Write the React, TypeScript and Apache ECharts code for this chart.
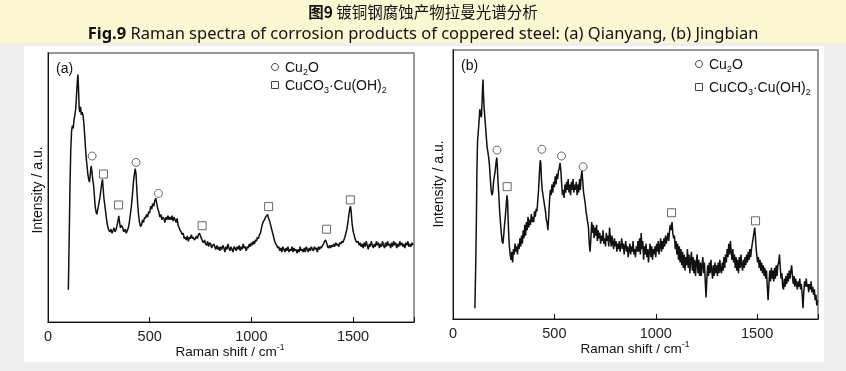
import React, { useEffect, useRef } from 'react';
import * as echarts from 'echarts';

// ---------- data ----------
const xTickLabels = [0, 500, 1000, 1500];

// (a) Qianyang  [Raman shift cm-1, intensity a.u.]
const specA: number[][] = [
  [100, 12], [104, 30], [108, 50], [112, 64], [116, 71], [120, 73], [124, 72], [128, 75], [132, 77], [136, 79],
  [140, 84], [144, 89], [147, 92], [150, 87], [153, 80], [156, 78], [160, 80], [164, 77], [168, 78], [172, 77],
  [176, 74], [180, 70], [184, 65], [188, 61], [192, 58], [196, 55], [200, 53], [204, 52], [208, 55], [212, 58],
  [216, 56], [220, 53], [224, 51], [228, 47], [232, 43], [236, 41], [240, 40], [245, 42], [250, 44], [255, 46],
  [260, 49], [265, 52], [268, 53], [271, 50], [275, 46], [280, 43], [285, 40], [290, 37], [295, 35], [300, 34],
  [305, 33.5], [310, 34.5], [315, 33], [320, 34], [325, 35], [330, 33.5], [335, 34.5], [340, 36], [345, 38], [348, 39.5],
  [352, 37], [356, 35], [360, 36], [364, 35.5], [368, 35], [372, 33.5], [376, 34], [380, 34.5], [385, 33], [390, 34],
  [395, 35], [400, 37], [405, 40], [410, 43], [415, 47], [420, 52], [425, 55], [429, 57], [433, 55], [437, 49],
  [441, 44], [445, 40], [450, 37], [455, 35.5], [460, 36], [465, 38], [470, 37], [475, 39], [480, 38.5], [485, 40],
  [490, 39], [495, 41], [500, 40.5], [505, 43], [510, 42], [515, 44], [520, 43], [525, 45], [530, 46], [535, 44],
  [540, 42], [545, 41], [550, 39], [555, 40], [560, 38], [565, 39], [570, 38.5], [575, 37], [580, 39], [585, 38],
  [590, 39.5], [595, 38], [600, 39], [605, 38], [610, 39.5], [615, 37.5], [620, 39], [625, 38], [630, 37], [635, 38.5],
  [640, 36], [645, 35], [650, 34], [655, 33.5], [660, 32.5], [665, 33], [670, 31], [675, 31.5], [680, 30.5], [685, 32],
  [690, 30], [695, 31.5], [700, 31], [705, 32.5], [710, 31], [715, 31.5], [720, 30.5], [725, 31], [730, 32], [735, 31],
  [740, 32.5], [745, 33], [750, 32], [755, 31], [760, 30], [765, 29.5], [770, 30.5], [775, 29], [780, 28.5], [785, 30],
  [790, 28], [795, 29.5], [800, 29], [805, 27.5], [810, 28.5], [815, 29], [820, 28], [825, 27], [830, 28.5], [835, 27],
  [840, 28], [845, 26.5], [850, 28], [855, 27], [860, 28.5], [865, 27.5], [870, 26], [875, 28], [880, 27], [885, 29],
  [890, 27.5], [895, 26.5], [900, 28], [905, 27], [910, 26], [915, 28], [920, 27.5], [925, 26.5], [930, 28], [935, 27],
  [940, 28.5], [945, 26.5], [950, 28], [955, 27], [960, 29], [965, 27.5], [970, 28], [975, 26.5], [980, 28], [985, 27.5],
  [990, 29], [995, 28], [1000, 29.5], [1005, 28.5], [1010, 30], [1015, 29], [1020, 30.5], [1025, 30], [1030, 31.5], [1035, 31],
  [1040, 32.5], [1045, 33], [1050, 35], [1055, 36.5], [1060, 37.5], [1065, 38], [1070, 39], [1075, 39.5], [1080, 40], [1085, 38.5],
  [1090, 37.5], [1095, 36], [1100, 34.5], [1105, 33], [1110, 31.5], [1115, 30], [1120, 29], [1125, 28.5], [1130, 27.5], [1135, 28],
  [1140, 26.5], [1145, 27.5], [1150, 26], [1155, 28], [1160, 27], [1165, 26], [1170, 27.5], [1175, 26.5], [1180, 28], [1185, 26],
  [1190, 27], [1195, 26.5], [1200, 28], [1205, 26], [1210, 27.5], [1215, 26.5], [1220, 27], [1225, 25.5], [1230, 27], [1235, 26],
  [1240, 28], [1245, 26.5], [1250, 27], [1255, 26], [1260, 27.5], [1265, 26], [1270, 28], [1275, 27], [1280, 26], [1285, 27.5],
  [1290, 26.5], [1295, 28], [1300, 27], [1305, 26.5], [1310, 28], [1315, 27], [1320, 27.5], [1325, 26], [1330, 28], [1335, 27],
  [1340, 28], [1345, 27.5], [1350, 28.5], [1355, 29], [1360, 30], [1365, 30.5], [1370, 29.5], [1375, 28], [1380, 27.5], [1385, 28.5],
  [1390, 27.5], [1395, 28.5], [1400, 28], [1405, 29], [1410, 28], [1415, 29.5], [1420, 28.5], [1425, 29], [1430, 28], [1435, 29.5],
  [1440, 29], [1445, 30], [1450, 29.5], [1455, 30.5], [1460, 31.5], [1465, 33], [1470, 34.5], [1475, 37], [1480, 40], [1485, 42.5],
  [1488, 43], [1491, 41], [1495, 37], [1500, 34], [1505, 32.5], [1510, 31], [1515, 30], [1520, 29.5], [1525, 30], [1530, 28.5],
  [1535, 29.5], [1540, 28], [1545, 29], [1550, 27.5], [1555, 29.5], [1560, 28], [1565, 30], [1570, 28.5], [1575, 27], [1580, 29],
  [1585, 28], [1590, 30], [1595, 28.5], [1600, 27.5], [1605, 29], [1610, 28], [1615, 30], [1620, 28.5], [1625, 29.5], [1630, 27.5],
  [1635, 29], [1640, 28], [1645, 30], [1650, 28.5], [1655, 27.5], [1660, 29.5], [1665, 28], [1670, 30], [1675, 28.5], [1680, 29],
  [1685, 27.5], [1690, 29.5], [1695, 28], [1700, 30], [1705, 28.5], [1710, 29.5], [1715, 27.5], [1720, 29], [1725, 28], [1730, 30],
  [1735, 28.5], [1740, 29.5], [1745, 28], [1750, 29], [1755, 27.5], [1760, 29.5], [1765, 28.5], [1770, 30], [1775, 28], [1780, 29],
  [1785, 28], [1790, 29.5], [1795, 28.5],
];

// (b) Jingbian
const specB: number[][] = [
  [108, 4], [112, 20], [115, 35], [118, 55], [121, 66], [125, 70], [129, 74], [132, 78], [136, 76], [140, 75],
  [143, 80], [146, 86], [148, 89], [150, 84], [153, 79], [156, 76], [160, 72], [164, 68], [168, 64], [172, 62],
  [176, 60], [180, 57], [184, 52], [188, 48], [192, 46], [196, 47], [200, 51], [204, 53], [208, 55], [212, 58],
  [216, 60], [219, 56], [222, 51], [226, 46], [230, 40], [234, 36], [238, 32], [242, 29], [246, 28], [250, 31],
  [254, 35], [258, 38], [262, 42], [266, 46], [269, 44], [272, 37], [275, 31], [278, 27], [282, 24], [286, 22],
  [290, 25], [294, 21], [298, 26], [302, 24], [306, 28], [310, 25], [314, 27], [318, 24], [322, 28], [326, 26],
  [330, 30], [334, 27], [338, 31], [342, 28], [346, 33], [350, 30], [354, 35], [358, 31], [362, 36], [366, 33],
  [370, 38], [374, 34], [378, 37], [382, 35], [386, 39], [390, 36], [394, 38], [398, 36], [402, 40], [406, 38],
  [410, 41], [414, 40], [418, 44], [422, 48], [426, 54], [430, 59], [433, 58], [436, 52], [440, 48], [444, 46],
  [448, 44], [452, 42], [456, 40], [460, 37], [464, 36], [468, 33], [472, 38], [476, 44], [480, 48], [484, 46],
  [488, 50], [492, 47], [496, 51], [500, 49], [504, 53], [508, 50], [512, 54], [516, 52], [520, 55], [524, 56],
  [528, 58], [532, 55], [536, 50], [540, 46], [544, 48], [548, 45], [552, 50], [556, 47], [560, 51], [564, 48],
  [568, 52], [572, 47], [576, 50], [580, 46], [584, 51], [588, 48], [592, 52], [596, 47], [600, 50], [604, 48],
  [608, 51], [612, 46], [616, 50], [620, 47], [624, 52], [628, 48], [632, 53], [636, 55], [640, 51], [644, 47],
  [648, 45], [652, 43], [656, 40], [660, 38], [664, 36], [668, 34], [672, 28], [676, 25], [680, 30], [684, 36],
  [688, 32], [692, 35], [696, 30], [700, 34], [704, 31], [708, 35], [712, 29], [716, 33], [720, 30], [724, 32],
  [728, 28], [732, 31], [736, 29], [740, 33], [744, 28], [748, 30], [752, 27], [756, 32], [760, 29], [764, 31],
  [768, 27], [772, 34], [776, 30], [780, 27], [784, 31], [788, 28], [792, 26], [796, 30], [800, 27], [804, 29],
  [808, 25], [812, 28], [816, 26], [820, 29], [824, 25], [828, 27], [832, 30], [836, 26], [840, 28], [844, 24],
  [848, 27], [852, 29], [856, 25], [860, 27], [864, 23], [868, 26], [872, 28], [876, 24], [880, 27], [884, 25],
  [888, 29], [892, 24], [896, 26], [900, 23], [904, 27], [908, 25], [912, 29], [916, 25], [920, 30], [924, 24],
  [928, 32], [932, 26], [936, 29], [940, 22], [944, 27], [948, 24], [952, 28], [956, 23], [960, 26], [964, 21],
  [968, 25], [972, 28], [976, 23], [980, 27], [984, 22], [988, 26], [992, 24], [996, 27], [1000, 23], [1004, 28],
  [1008, 25], [1012, 29], [1016, 24], [1020, 27], [1024, 30], [1028, 25], [1032, 29], [1036, 26], [1040, 30], [1044, 27],
  [1048, 31], [1052, 28], [1056, 30], [1060, 32], [1064, 29], [1068, 33], [1072, 35], [1076, 33], [1080, 36], [1084, 32],
  [1088, 30], [1092, 31], [1096, 26], [1100, 29], [1104, 24], [1108, 28], [1112, 22], [1116, 27], [1120, 21], [1124, 26],
  [1128, 20], [1132, 25], [1136, 19], [1140, 24], [1144, 18], [1148, 23], [1152, 20], [1156, 26], [1160, 19], [1164, 24],
  [1168, 17], [1172, 22], [1176, 25], [1180, 18], [1184, 23], [1188, 17], [1192, 22], [1196, 16], [1200, 21], [1204, 24],
  [1208, 17], [1212, 22], [1216, 16], [1220, 21], [1224, 16], [1228, 20], [1232, 23], [1236, 17], [1240, 21], [1244, 14],
  [1248, 8], [1252, 15], [1256, 20], [1260, 16], [1264, 21], [1268, 17], [1272, 22], [1276, 18], [1280, 15], [1284, 20],
  [1288, 16], [1292, 21], [1296, 17], [1300, 20], [1304, 16], [1308, 21], [1312, 17], [1316, 22], [1320, 18], [1324, 17],
  [1328, 21], [1332, 18], [1336, 23], [1340, 19], [1344, 24], [1348, 21], [1352, 26], [1356, 23], [1360, 28], [1364, 24],
  [1368, 29], [1372, 25], [1376, 22], [1380, 26], [1384, 21], [1388, 24], [1392, 19], [1396, 23], [1400, 18], [1404, 22],
  [1408, 17], [1412, 23], [1416, 19], [1420, 24], [1424, 20], [1428, 18], [1432, 22], [1436, 19], [1440, 23], [1444, 20],
  [1448, 24], [1452, 21], [1456, 25], [1460, 22], [1464, 26], [1468, 23], [1472, 26], [1476, 28], [1480, 30], [1484, 32],
  [1488, 34], [1491, 31], [1494, 27], [1498, 24], [1502, 21], [1506, 23], [1510, 19], [1514, 22], [1518, 18], [1522, 21],
  [1526, 17], [1530, 20], [1534, 16], [1538, 19], [1542, 15], [1546, 18], [1550, 12], [1554, 7], [1558, 13], [1562, 18],
  [1566, 14], [1570, 19], [1574, 15], [1578, 18], [1582, 14], [1586, 19], [1590, 15], [1594, 20], [1598, 16], [1602, 20],
  [1606, 21], [1610, 24], [1614, 19], [1618, 15], [1622, 17], [1626, 12], [1630, 11], [1634, 15], [1638, 12], [1642, 16],
  [1646, 13], [1650, 17], [1654, 14], [1658, 18], [1662, 15], [1666, 18], [1670, 20], [1674, 16], [1678, 13], [1682, 16],
  [1686, 12], [1690, 15], [1694, 13], [1698, 11], [1702, 14], [1706, 12], [1710, 15], [1714, 11], [1718, 13], [1722, 9],
  [1726, 4], [1730, 10], [1734, 14], [1738, 12], [1742, 15], [1746, 12], [1750, 13], [1754, 10], [1758, 13], [1762, 11],
  [1766, 14], [1770, 10], [1774, 12], [1778, 9], [1782, 11], [1786, 7], [1790, 9], [1794, 5], [1798, 7],
];

// peak markers
const cu2oMarksA: number[][] = [[217, 61.7], [433, 59.3], [543, 47.8]];
const malachiteMarksA: number[][] = [[273, 55], [347, 43.5], [758, 35.8], [1085, 42.9], [1370, 34.5], [1487, 45.4]];
const cu2oMarksB: number[][] = [[217, 62.8], [438, 63.1], [535, 60.6], [642, 56.6]];
const malachiteMarksB: number[][] = [[267, 49.2], [1078, 39.5], [1492, 36.5]];

const titleCn = ['图9', ' 镀铜钢腐蚀产物拉曼光谱分析'];
const titleEn = ['Fig.9', ' Raman spectra of corrosion products of coppered steel: (a) Qianyang, (b) Jingbian'];
const panelLabels = ['(a)', '(b)'];
const xAxisTitle = ['Raman shift / cm', '-1'];
const yAxisTitle = 'Intensity / a.u.';

const FONT = 'Liberation Sans, Arial, sans-serif';
const INK = '#111';

const mkX = (gridIndex: number) => ({
  type: 'value',
  gridIndex,
  min: 0,
  max: 1800,
  interval: 500,
  axisLine: { show: true, onZero: false, lineStyle: { color: INK, width: 1 } },
  axisTick: { show: true, inside: true, length: 5, lineStyle: { color: INK, width: 1 } },
  axisLabel: {
    show: true,
    color: '#222',
    fontSize: 14.5,
    fontFamily: FONT,
    margin: 6,
    formatter: (v: number) => (xTickLabels.includes(v) ? String(v) : ''),
  },
  splitLine: { show: false },
});

const mkY = (gridIndex: number) => ({
  type: 'value',
  gridIndex,
  min: 0,
  max: 100,
  axisLine: { show: true, onZero: false, lineStyle: { color: INK, width: 1 } },
  axisTick: { show: false },
  axisLabel: { show: false },
  splitLine: { show: false },
});

const mkMarks = (data: number[][], idx: number, symbol: string) => ({
  type: 'scatter',
  xAxisIndex: idx,
  yAxisIndex: idx,
  data,
  symbol,
  symbolSize: 8,
  itemStyle: { color: '#fff', borderColor: '#444', borderWidth: 1 },
  z: 5,
  silent: true,
});

const subRich = {
  n: { fontSize: 14, fontFamily: FONT, fill: INK, lineHeight: 18 },
  s: { fontSize: 9, fontFamily: FONT, fill: INK, verticalAlign: 'bottom', lineHeight: 9 },
};

const legendBlock = (cx: number, y1: number, y2: number) => [
  { type: 'circle', shape: { cx, cy: y1, r: 3.5 }, style: { fill: '#fff', stroke: '#444', lineWidth: 1 }, z: 10 },
  { type: 'rect', shape: { x: cx - 3.5, y: y2 - 3.5, width: 7, height: 7 }, style: { fill: '#fff', stroke: '#444', lineWidth: 1 }, z: 10 },
  { type: 'text', x: cx + 10, y: y1 - 9, z: 10, style: { text: '{n|Cu}{s|2}{n|O}', fontFamily: FONT, rich: subRich } },
  { type: 'text', x: cx + 10, y: y2 - 9, z: 10, style: { text: '{n|CuCO}{s|3}{n|·Cu(OH)}{s|2}', fontFamily: FONT, rich: subRich } },
];

const xTitle = (cx: number, cy: number) => ({
  type: 'text', x: cx, y: cy, z: 10,
  style: {
    text: `{n|${xAxisTitle[0]}}{p|${xAxisTitle[1]}}`, align: 'center', verticalAlign: 'middle', fontFamily: FONT,
    rich: { n: { fontSize: 13.5, fontFamily: FONT, fill: INK, lineHeight: 18 }, p: { fontSize: 8.5, fontFamily: FONT, fill: INK, verticalAlign: 'top', lineHeight: 9 } },
  },
});

const yTitle = (x: number, y: number) => ({
  type: 'text', x, y, rotation: Math.PI / 2, z: 10,
  style: { text: yAxisTitle, fontSize: 14, fontFamily: FONT, fill: INK, align: 'center', verticalAlign: 'middle' },
});

export default function App() {
  const ref = useRef<HTMLDivElement>(null);
  useEffect(() => {
    const chart = echarts.init(ref.current!, null, { renderer: 'svg' });
    chart.setOption({
      animation: false,
      grid: [
        { left: 48, top: 53, width: 366, height: 269, show: true, borderColor: '#777', borderWidth: 1.5, backgroundColor: 'transparent' },
        { left: 453, top: 50, width: 365, height: 269, show: true, borderColor: '#777', borderWidth: 1.5, backgroundColor: 'transparent' },
      ],
      xAxis: [mkX(0), mkX(1)],
      yAxis: [mkY(0), mkY(1)],
      series: [
        { type: 'line', xAxisIndex: 0, yAxisIndex: 0, data: specA, showSymbol: false, lineStyle: { color: INK, width: 1.5 }, z: 3, silent: true },
        { type: 'line', xAxisIndex: 1, yAxisIndex: 1, data: specB, showSymbol: false, lineStyle: { color: INK, width: 1.5 }, z: 3, silent: true },
        mkMarks(cu2oMarksA, 0, 'circle'),
        mkMarks(malachiteMarksA, 0, 'rect'),
        mkMarks(cu2oMarksB, 1, 'circle'),
        mkMarks(malachiteMarksB, 1, 'rect'),
      ],
      graphic: [
        { type: 'rect', shape: { x: 0, y: 0, width: 846, height: 43 }, style: { fill: '#fcf9d2' }, z: -10, silent: true },
        { type: 'rect', shape: { x: 0, y: 43, width: 846, height: 328 }, style: { fill: '#eeeeee' }, z: -10, silent: true },
        { type: 'rect', shape: { x: 24, y: 46, width: 800, height: 316 }, style: { fill: '#ffffff' }, z: -9, silent: true },
        {
          type: 'text', x: 423, y: 10.5, z: 10,
          style: {
            text: `{b|${titleCn[0]}}{n|${titleCn[1]}}`, align: 'center', verticalAlign: 'middle',
            rich: {
              b: { fontSize: 15.5, fontWeight: 'bold', fontFamily: 'Noto Sans CJK SC', fill: '#111', lineHeight: 17 },
              n: { fontSize: 15.5, fontFamily: 'Noto Sans CJK SC', fill: '#111', lineHeight: 17 },
            },
          },
        },
        {
          type: 'text', x: 423, y: 32.5, z: 10,
          style: {
            text: `{b|${titleEn[0]}}{n|${titleEn[1]}}`, align: 'center', verticalAlign: 'middle',
            rich: {
              b: { fontSize: 16.5, fontWeight: 'bold', fontFamily: 'Noto Sans', fill: '#111', lineHeight: 18 },
              n: { fontSize: 16.5, fontFamily: 'Noto Sans', fill: '#111', lineHeight: 18 },
            },
          },
        },
        { type: 'text', x: 56, y: 68, z: 10, style: { text: panelLabels[0], fontSize: 14, fontFamily: FONT, fill: INK, verticalAlign: 'middle' } },
        { type: 'text', x: 461, y: 65, z: 10, style: { text: panelLabels[1], fontSize: 14, fontFamily: FONT, fill: INK, verticalAlign: 'middle' } },
        ...legendBlock(275, 67, 85),
        ...legendBlock(699, 64, 87),
        xTitle(230, 351),
        xTitle(635, 348),
        yTitle(37, 190),
        yTitle(438, 184),
      ],
    });
    return () => chart.dispose();
  }, []);
  return <div ref={ref} style={{ position: 'fixed', left: 0, top: 0, width: 846, height: 371 }} />;
}
